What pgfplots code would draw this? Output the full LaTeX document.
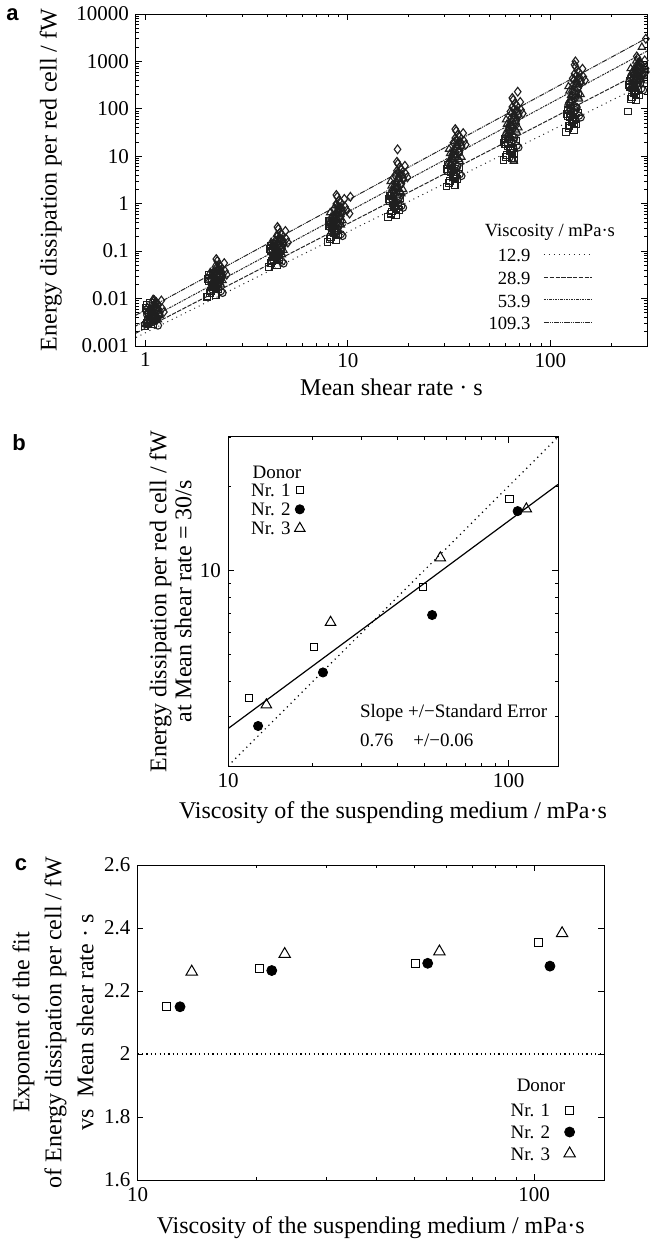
\documentclass[border=0pt]{standalone}
\usepackage{fontspec}
\setmainfont{Liberation Serif}
\newfontfamily\panelfont{Liberation Sans}
\usepackage{pgfplots}
\pgfplotsset{compat=1.18}

\pgfplotsset{
  fig/.style={
    scale only axis,
    anchor=south west,
    axis line style={line width=0.5pt},
    every tick/.style={black, line width=0.4pt},
    major tick length=2.8pt,
    minor tick length=1.6pt,
    tick align=inside,
    /pgf/number format/assume math mode=true,
    /pgf/number format/1000 sep={},
    ticklabel style={font=\fontsize{10.5}{12}\selectfont},
    label style={font=\fontsize{12}{14}\selectfont},
  },
  cloud/.style={only marks, black!88, line width=0.55pt, forget plot},
}

\begin{document}
\begin{tikzpicture}
\path[use as bounding box] (0pt,0pt) rectangle (325pt,-620.5pt);

% ---------------- panel a
\begin{axis}[fig, at={(68pt,-173pt)}, width=255.5pt, height=166pt,
  xmode=log, ymode=log, xmin=0.9, xmax=300, ymin=0.001, ymax=10000,
  xtick={1,10,100}, xticklabels={1,10,100},
  minor xtick={2,3,4,5,6,7,8,9,20,30,40,50,60,70,80,90,200,300},
  ytick={0.001,0.01,0.1,1,10,100,1000,10000},
  yticklabels={0.001,0.01,0.1,1,10,100,1000,10000},
  minor ytick={0.002,0.003,0.004,0.005,0.006,0.007,0.008,0.009,
    0.02,0.03,0.04,0.05,0.06,0.07,0.08,0.09,0.2,0.3,0.4,0.5,0.6,0.7,0.8,0.9,
    2,3,4,5,6,7,8,9,20,30,40,50,60,70,80,90,200,300,400,500,600,700,800,900,
    2000,3000,4000,5000,6000,7000,8000,9000},
  xlabel={Mean shear rate · s},
  ylabel={Energy dissipation per red cell / fW},
  xlabel style={at={(axis description cs:0.5,-0.123)}, anchor=center},
  ylabel style={at={(axis description cs:-0.167,0.5)}, anchor=center},
  legend style={draw=none, fill=none, at={(axis description cs:0.894,0.297)},
    anchor=north east, inner sep=0pt, row sep=1.9pt,
    font=\fontsize{9.3}{11}\selectfont,
    nodes={inner sep=0pt, text height=7pt, text depth=2.4pt}},
  legend cell align=right, legend plot pos=right,
  legend image code/.code={\path (0pt,-3pt) (30.5pt,3pt);
    \draw[#1] (6.5pt,1.3pt) -- (30.5pt,1.3pt);},
]
% squares
\addplot[cloud, mark=square, mark size=1.7pt] coordinates {
(0.992,0.00264) (1.035,0.00346) (1.067,0.00422) (1.110,0.0048) (1.014,0.00566) (1.142,0.00672) (1.056,0.00816) (1.088,0.00384)
(1.024,0.00312) (1.078,0.00456) (1.003,0.00624) (1.120,0.00374) (1.046,0.00528) (1.088,0.00288) (1.014,0.00744) (1.067,0.00432)
(2.027,0.011) (2.115,0.0144) (2.18,0.0176) (2.267,0.02) (2.071,0.0236) (2.333,0.028) (2.158,0.034) (2.224,0.016)
(2.093,0.013) (2.202,0.019) (2.049,0.026) (2.289,0.0156) (2.136,0.022) (2.224,0.012) (2.071,0.031) (2.18,0.018)
(4.064,0.0468) (4.239,0.0612) (4.37,0.0748) (4.545,0.085) (4.152,0.1003) (4.676,0.119) (4.326,0.1445) (4.457,0.068)
(4.195,0.0553) (4.414,0.0808) (4.108,0.1105) (4.589,0.0663) (4.283,0.0935) (4.457,0.051) (4.152,0.1318) (4.37,0.0765)
(7.942,0.154) (8.284,0.2016) (8.54,0.2464) (8.882,0.28) (8.113,0.3304) (9.138,0.392) (8.455,0.476) (8.711,0.224)
(8.198,0.182) (8.625,0.266) (8.028,0.364) (8.967,0.2184) (8.369,0.308) (8.711,0.168) (8.113,0.434) (8.54,0.252)
(15.79,0.5225) (16.47,0.684) (16.98,0.836) (17.66,0.95) (16.13,1.121) (18.17,1.33) (16.81,1.615) (17.32,0.76)
(16.30,0.6175) (17.15,0.9025) (15.96,1.235) (17.83,0.741) (16.64,1.045) (17.32,0.57) (16.13,1.4725) (16.98,0.855)
(30.69,2.31) (32.01,3.024) (33.0,3.696) (34.32,4.2) (31.35,4.956) (35.31,5.88) (32.67,7.14) (33.66,3.36)
(31.68,2.73) (33.33,3.99) (31.02,5.46) (34.65,3.276) (32.34,4.62) (33.66,2.52) (31.35,6.51) (33.0,3.78)
(58.68,8.25) (61.21,10.8) (63.1,13.2) (65.62,15) (59.95,17.7) (67.52,21) (62.47,25.5) (64.36,12) (66,8.2)
(60.58,9.75) (63.73,14.25) (59.31,19.5) (66.26,11.7) (61.84,16.5) (64.36,9) (59.95,23.25) (63.1,13.5)
(119.0,33) (124.2,43.2) (128,52.8) (133.1,60) (121.6,70.8) (137.0,84) (126.7,102) (130.6,48)
(122.9,39) (129.3,57) (120.3,78) (134.4,46.8) (125.4,66) (130.6,36) (121.6,93) (128,54)
(241.8,88) (252.2,180) (260,220) (270.4,250) (247,295) (278.2,350) (257.4,425) (265.2,200)
(249.6,162.5) (262.6,237.5) (244.4,325) (273,195) (254.8,275) (265.2,150) (247,387.5) (260,225)
};
% circles
\addplot[cloud, mark=o, mark size=1.8pt] coordinates {
(1.023,0.0045) (1.067,0.00531) (1.1,0.0063) (1.144,0.00765) (1.045,0.0036) (1.0,0.0029) (1.089,0.00324) (1.122,0.00396)
(1.056,0.00585) (1.111,0.00351) (1.034,0.00495) (1.155,0.0027) (1.078,0.00698) (1.122,0.00405) (1.045,0.00293) (1.1,0.00428)
(2.093,0.024) (2.183,0.0283) (2.25,0.0336) (2.34,0.0408) (2.138,0.0192) (2.408,0.0132) (2.228,0.0173) (2.295,0.0211)
(2.16,0.0312) (2.273,0.0187) (2.115,0.0264) (2.363,0.0144) (2.205,0.0372) (2.295,0.0216) (2.138,0.0156) (2.25,0.0228)
(4.185,0.1) (4.365,0.118) (4.5,0.14) (4.68,0.17) (4.275,0.08) (4.815,0.055) (4.455,0.072) (4.59,0.088)
(4.32,0.13) (4.545,0.078) (4.23,0.11) (4.725,0.06) (4.41,0.155) (4.59,0.09) (4.275,0.065) (4.5,0.095)
(8.184,0.38) (8.536,0.448) (8.8,0.532) (9.152,0.646) (8.36,0.304) (9.416,0.209) (8.712,0.274) (8.976,0.334)
(8.448,0.494) (8.888,0.2964) (8.272,0.418) (9.24,0.228) (8.624,0.589) (8.976,0.342) (8.36,0.247) (8.8,0.361)
(16.28,1.5) (16.98,1.77) (17.5,2.1) (18.2,2.55) (16.63,1.2) (18.73,0.825) (17.33,1.08) (17.85,1.32)
(16.8,1.95) (17.68,1.17) (16.45,1.65) (18.38,0.9) (17.15,2.325) (17.85,1.35) (16.63,0.975) (17.5,1.425)
(31.62,7) (32.98,8.26) (34,9.8) (35.36,11.9) (32.3,5.6) (36.38,3.85) (33.66,5.04) (34.68,6.16)
(32.64,9.1) (34.34,5.46) (31.96,7.7) (35.7,4.2) (33.32,10.85) (34.68,6.3) (32.3,4.55) (34,6.65)
(60.45,28) (63.05,33.04) (65,39.2) (67.6,47.6) (61.75,22.4) (69.55,15.4) (64.35,20.16) (66.3,24.64)
(62.4,36.4) (65.65,21.84) (61.1,30.8) (68.25,16.8) (63.7,43.4) (66.3,25.2) (61.75,18.2) (65,26.6)
(122.8,120) (128.0,141.6) (132,168) (137.3,204) (125.4,96) (141.2,66) (130.7,86.4) (134.6,105.6)
(126.7,156) (133.3,93.6) (124.1,132) (138.6,72) (129.4,186) (134.6,108) (125.4,78) (132,114)
(249.2,450) (260,531) (268,630) (278.7,765) (254.6,360) (286.8,247.5) (265.3,324) (273.4,396)
(257.3,585) (270.7,351) (251.9,495) (281.4,270) (262.6,697.5) (273.4,405) (254.6,292.5) (268,427.5)
};
% triangles
\addplot[cloud, mark=triangle, mark size=2.1pt] coordinates {
(1.122,0.0077) (1.089,0.00935) (1.177,0.0044) (1.045,0.00303) (1.144,0.00396) (1.1,0.00484) (1.067,0.0055) (1.023,0.00649)
(1.1,0.00605) (1.045,0.0033) (1.122,0.00853) (1.078,0.00495) (1.155,0.00358) (1.034,0.00523) (1.111,0.00715) (1.056,0.00429)
(2.295,0.042) (2.228,0.051) (2.408,0.024) (2.138,0.0165) (2.34,0.0216) (2.25,0.0264) (2.183,0.03) (2.093,0.0354)
(2.25,0.033) (2.138,0.018) (2.295,0.0465) (2.205,0.027) (2.363,0.0195) (2.115,0.0285) (2.273,0.039) (2.16,0.0234)
(4.59,0.182) (4.455,0.221) (4.815,0.104) (4.275,0.0715) (4.68,0.0936) (4.5,0.1144) (4.365,0.13) (4.185,0.1534)
(4.5,0.143) (4.275,0.078) (4.59,0.2015) (4.41,0.117) (4.725,0.0845) (4.23,0.1235) (4.545,0.169) (4.32,0.1014)
(8.976,0.77) (8.712,0.935) (9.416,0.44) (8.36,0.3025) (9.152,0.396) (8.8,0.484) (8.536,0.55) (8.184,0.649)
(8.8,0.605) (8.36,0.33) (8.976,0.8525) (8.624,0.495) (9.24,0.3575) (8.272,0.5225) (8.888,0.715) (8.448,0.429)
(17.85,3.5) (17.33,4.25) (18.73,2.0) (16.63,1.375) (18.2,1.8) (17.5,2.2) (16.98,2.5) (16.28,2.95)
(17.5,2.75) (16.63,1.5) (17.85,3.875) (17.15,2.25) (18.38,1.625) (16.45,2.375) (17.68,3.25) (16.8,1.95)
(34.68,16.8) (33.66,20.4) (36.38,9.6) (32.3,6.6) (35.36,8.64) (34,10.56) (32.98,12) (31.62,14.16)
(34,13.2) (32.3,7.2) (34.68,18.6) (33.32,10.8) (35.7,7.8) (31.96,11.4) (34.34,15.6) (32.64,9.36)
(66.3,70) (64.35,85) (69.55,40) (61.75,27.5) (67.6,36) (65,44) (63.05,50) (60.45,59) (66,8)
(65,55) (61.75,30) (66.3,77.5) (63.7,45) (68.25,32.5) (61.1,47.5) (65.65,65) (62.4,39)
(134.6,350) (130.7,425) (141.2,200) (125.4,137.5) (137.3,180) (132,220) (128.0,250) (122.8,295)
(132,275) (125.4,150) (134.6,387.5) (129.4,225) (138.6,162.5) (124.1,237.5) (133.3,325) (126.7,195)
(273.4,840) (265.3,1020) (286.8,480) (254.6,330) (278.7,432) (268,528) (260,600) (249.2,708) (283,2000)
(268,660) (254.6,360) (273.4,930) (262.6,540) (281.4,390) (251.9,570) (270.7,780) (257.3,468)
};
% diamonds
\addplot[cloud, mark=diamond, mark size=2.2pt] coordinates {
(1.074,0.00572) (1.120,0.0065) (1.155,0.00767) (1.201,0.0091) (1.097,0.0095) (1.236,0.0052) (1.143,0.00358) (1.178,0.00468)
(1.109,0.0092) (1.167,0.00585) (1.086,0.00423) (1.213,0.00618) (1.132,0.00845) (1.178,0.00507) (1.097,0.00715) (1.155,0.0039)
(2.195,0.0352) (2.289,0.04) (2.36,0.0472) (2.454,0.056) (2.242,0.068) (2.525,0.032) (2.336,0.022) (2.407,0.0288)
(2.266,0.062) (2.384,0.036) (2.218,0.026) (2.478,0.038) (2.313,0.052) (2.407,0.0312) (2.242,0.044) (2.36,0.024)
(4.399,0.1672) (4.588,0.19) (4.73,0.2242) (4.919,0.266) (4.494,0.323) (5.061,0.152) (4.683,0.1045) (4.825,0.1368)
(4.541,0.2945) (4.777,0.171) (4.446,0.1235) (4.967,0.1805) (4.635,0.247) (4.825,0.1482) (4.494,0.209) (4.73,0.114)
(8.593,0.792) (8.963,0.9) (9.24,1.062) (9.61,1.26) (8.778,1.53) (9.887,0.72) (9.148,0.495) (9.425,0.648) (10.3,1.4) (10.2,0.62)
(8.87,1.395) (9.332,0.81) (8.686,0.585) (9.702,0.855) (9.055,1.17) (9.425,0.702) (8.778,0.99) (9.24,0.54)
(17.11,3.96) (17.85,4.5) (18.4,5.31) (19.14,6.3) (17.48,7.65) (19.69,3.6) (18.22,2.475) (18.77,3.24) (17.6,14)
(17.66,6.975) (18.58,4.05) (17.3,2.925) (19.32,4.275) (18.03,5.85) (18.77,3.51) (17.48,4.95) (18.4,2.7)
(33.2,19.36) (34.63,22) (35.7,25.96) (37.13,30.8) (33.92,37.4) (38.2,17.6) (35.34,12.1) (36.41,15.84)
(34.27,34.1) (36.06,19.8) (33.56,14.3) (37.49,20.9) (34.99,28.6) (36.41,17.16) (33.92,24.2) (35.7,13.2)
(63.52,88) (66.25,100) (68.3,118) (71.03,140) (64.89,170) (73.08,80) (67.62,55) (69.67,72) (69,230)
(65.57,155) (68.98,90) (64.2,65) (71.72,95) (66.93,130) (69.67,78) (64.89,110) (68.3,60)
(128.9,440) (134.4,500) (138.6,590) (144.1,700) (131.7,850) (148.3,400) (137.2,275) (141.4,360) (133,1000)
(133.1,775) (140,450) (130.3,325) (145.5,475) (135.8,650) (141.4,390) (131.7,550) (138.6,300)
(261.3,660) (272.6,750) (281,885) (292.2,1050) (267,1275) (296,600) (278.2,412.5) (286.6,540) (296,3000)
(269.8,1162.5) (283.8,675) (264.1,487.5) (295,712.5) (275.4,975) (286.6,585) (267,825) (281,450)
};
% fitted lines
\addplot[black!85, line width=0.5pt, dash pattern=on 0.5pt off 2pt] coordinates {(0.9,0.001513) (300,355.6)};
\addlegendentry{12.9}
\addplot[black!85, line width=0.5pt, dash pattern=on 2.2pt off 0.7pt] coordinates {(0.9,0.001871) (300,683.9)};
\addlegendentry{28.9}
\addplot[black!85, line width=0.5pt, dash pattern=on 1.2pt off 0.5pt on 0.5pt off 0.5pt] coordinates {(0.9,0.002661) (300,1649)};
\addlegendentry{53.9}
\addplot[black!85, line width=0.5pt, dash pattern=on 2.6pt off 0.5pt on 0.5pt off 0.5pt on 0.5pt off 0.5pt] coordinates {(0.9,0.004477) (300,3135)};
\addlegendentry{109.3}
\node[font=\fontsize{9.3}{11}\selectfont] at (axis description cs:0.810,0.343) {Viscosity / mPa·s};
\end{axis}

% ---------------- panel b
\begin{axis}[fig, at={(114pt,-383pt)}, width=165pt, height=164.5pt,
  xmode=log, ymode=log, xmin=10, xmax=150, ymin=2, ymax=30,
  xtick={10,100}, xticklabels={10,100}, minor xtick={20,30,40,50,60,70,80,90},
  ytick={10}, yticklabels={10}, minor ytick={2,3,4,5,6,7,8,9,20,30},
  xlabel={Viscosity of the suspending medium / mPa·s},
  ylabel={Energy dissipation per red cell / fW\\at Mean shear rate = 30/s},
  xlabel style={at={(axis description cs:0.5,-0.143)}, anchor=center},
  ylabel style={at={(axis description cs:-0.174,0.5)}, anchor=center, align=center,
    font=\fontsize{12}{12.5}\selectfont},
  legend style={draw=none, fill=none, at={(axis description cs:0.2467,0.861)},
    anchor=north east, inner sep=0pt, row sep=0.5pt,
    font=\fontsize{9.5}{11}\selectfont,
    nodes={inner sep=0pt, text height=6.8pt, text depth=2.2pt}},
  legend cell align=right, legend plot pos=right,
  legend image code/.code={\path (0pt,-3pt) (8.7pt,3pt);
    \draw[#1] plot coordinates {(4.35pt,0.9pt)};},
]
\addplot[only marks, mark=square, mark size=1.8pt, black, line width=0.5pt]
  coordinates {(11.9,3.49) (20.3,5.32) (49.5,8.71) (100.7,18.0)};
\addlegendentry{Nr. 1}
\addplot[only marks, mark=*, mark size=2.3pt, black]
  coordinates {(12.8,2.78) (21.8,4.32) (53.4,6.93) (107.7,16.3)};
\addlegendentry{Nr. 2}
\addplot[only marks, mark=triangle, mark size=3pt, black, line width=0.5pt]
  coordinates {(13.7,3.31) (23.2,6.53) (57.1,11.1) (115.7,16.6)};
\addlegendentry{Nr. 3}
\addplot[black, line width=0.6pt, forget plot] coordinates {(10,2.72) (150,20.3)};
\addplot[black, line width=0.6pt, dash pattern=on 0.6pt off 2pt, forget plot]
  coordinates {(10,2) (150,30)};
\node[font=\fontsize{9.5}{11}\selectfont] at (axis description cs:0.148,0.891) {Donor};
\node[anchor=west, font=\fontsize{9.5}{11}\selectfont] at (axis description cs:0.379,0.161)
  {Slope +/−Standard Error};
\node[anchor=west, font=\fontsize{9.5}{11}\selectfont] at (axis description cs:0.379,0.079)
  {0.76\hspace{10pt}+/−0.06};
\end{axis}

% ---------------- panel c
\begin{axis}[fig, at={(68.75pt,-590pt)}, width=233.25pt, height=157.5pt,
  xmode=log, xmin=10, xmax=150, ymin=1.6, ymax=2.6,
  xtick={10,100}, xticklabels={10,100}, minor xtick={20,30,40,50,60,70,80,90},
  ytick={1.6,1.8,2,2.2,2.4,2.6}, yticklabels={1.6,1.8,2,2.2,2.4,2.6},
  xlabel={Viscosity of the suspending medium / mPa·s},
  ylabel={Exponent of the fit\\of Energy dissipation per cell / fW\\vs\ \ Mean shear rate · s},
  xlabel style={at={(axis description cs:0.5,-0.152)}, anchor=center},
  ylabel style={at={(axis description cs:-0.181,0.5)}, anchor=center, align=center,
    font=\fontsize{12}{16}\selectfont},
  legend style={draw=none, fill=none, at={(axis description cs:0.969,0.246)},
    anchor=north east, inner sep=0pt, row sep=1.5pt,
    font=\fontsize{9.5}{11}\selectfont,
    nodes={inner sep=0pt, text height=7pt, text depth=2.3pt}},
  legend cell align=right, legend plot pos=right,
  legend image code/.code={\path (0pt,-3pt) (19pt,3pt);
    \draw[#1] plot coordinates {(9.5pt,0.9pt)};},
]
\addplot[only marks, mark=square, mark size=2pt, black, line width=0.5pt]
  coordinates {(11.85,2.152) (20.3,2.272) (50.1,2.286) (102.4,2.353)};
\addlegendentry{Nr. 1}
\addplot[only marks, mark=*, mark size=2.5pt, black]
  coordinates {(12.8,2.150) (21.8,2.265) (53.9,2.288) (109.6,2.279)};
\addlegendentry{Nr. 2}
\addplot[only marks, mark=triangle, mark size=3.3pt, black, line width=0.5pt]
  coordinates {(13.7,2.261) (23.5,2.317) (57.7,2.325) (117.6,2.383)};
\addlegendentry{Nr. 3}
\addplot[black, line width=0.6pt, dash pattern=on 0.6pt off 1.6pt, forget plot]
  coordinates {(10,2) (150,2)};
\node[font=\fontsize{9.5}{11}\selectfont] at (axis description cs:0.865,0.302) {Donor};
\end{axis}

% panel letters
\node[font=\panelfont\bfseries\fontsize{11}{13}\selectfont, anchor=base] at (6.25pt,-10.5pt) {a};
\node[font=\panelfont\bfseries\fontsize{11}{13}\selectfont, anchor=base] at (9.5pt,-225pt) {b};
\node[font=\panelfont\bfseries\fontsize{11}{13}\selectfont, anchor=base] at (10.5pt,-435pt) {c};
\end{tikzpicture}
\end{document}
